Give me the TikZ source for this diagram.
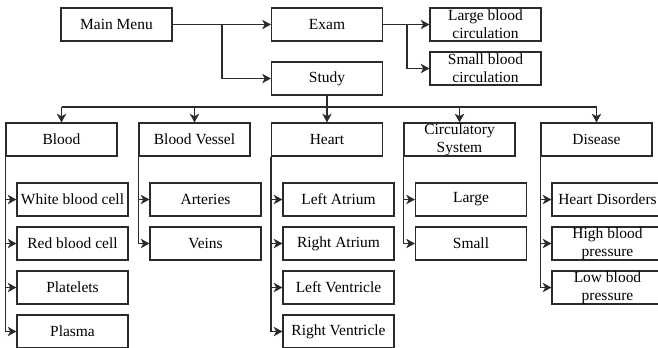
\documentclass[tikz,border=0pt]{standalone}
\usepackage{fontspec}
\setmainfont{Liberation Serif}
\usetikzlibrary{arrows.meta}
\definecolor{lc}{HTML}{2B2B2B}
\tikzset{
  box/.style={draw=lc, line width=0.85pt, minimum width=83.25pt, minimum height=24.75pt,
    inner sep=0pt, align=center, font=\fontsize{11.6}{13.2}\selectfont, text=black},
  conn/.style={draw=lc, line width=0.85pt},
  arr/.style={conn, -{Stealth[length=6.5pt,width=7pt,inset=1.8pt]}}
}
\begin{document}
\begin{tikzpicture}[x=0.75pt,y=-0.75pt]
\useasboundingbox (0,0) rectangle (658,347);
\clip (0,0) rectangle (658,347);
% top level
\node[box] (main) at (116.5,24.5) {Main Menu};
\node[box] (exam) at (327,24.5) {Exam};
\node[box] (study) at (327,78.5) {Study};
\node[box] (large) at (485.5,24.5) {Large blood\\circulation};
\node[box] (small) at (485.5,68.5) {Small blood\\circulation};
\coordinate (j1) at (222,24.5);
\coordinate (j2) at (407,24.5);
\draw[arr] (main.east) -- (exam.west);
\draw[arr] (j1) |- (study.west);
\draw[arr] (exam.east) -- (large.west);
\draw[arr] (j2) |- (small.west);
% categories
\node[box] (blood) at (61.5,139.5) {Blood};
\node[box] (vessel) at (194.5,139.5) {Blood Vessel};
\node[box] (heart) at (327,139.5) {Heart};
\node[box] (circ) at (459.5,139.5) {Circulatory\\System};
\node[box] (dis) at (596.5,139.5) {Disease};
\coordinate (b1) at (61.5,107);
\coordinate (b2) at (194.5,107);
\coordinate (b5) at (596.5,107);
\coordinate (b4) at (459.5,107);
\draw[conn] (b1) -- (b5);
\draw[arr] (study.south) -- (heart.north);
\draw[arr] (b1) -- (blood.north);
\draw[arr] (b2) -- (vessel.north);
\draw[arr] (b4) -- (circ.north);
\draw[arr] (b5) -- (dis.north);
% children
\node[box] (bl1) at (72.5,199.5) {White blood cell};
\node[box] (bl2) at (72.5,243.5) {Red blood cell};
\node[box] (bl3) at (72.5,287.5) {Platelets};
\node[box] (bl4) at (72.5,331.5) {Plasma};
\node[box] (v1) at (205.5,199.5) {Arteries};
\node[box] (v2) at (205.5,243.5) {Veins};
\node[box] (h1) at (338.5,199.5) {Left Atrium};
\node[box] (h2) at (338.5,243.5) {Right Atrium};
\node[box] (h3) at (338.5,287.5) {Left Ventricle};
\node[box] (h4) at (338.5,331.5) {Right Ventricle};
\node[box] (c1) at (471,199.5) {Large};
\node[box] (c2) at (471,243.5) {Small};
\node[box] (d1) at (607.5,199.5) {Heart Disorders};
\node[box] (d2) at (607.5,243.5) {High blood\\pressure};
\node[box] (d3) at (607.5,287.5) {Low blood\\pressure};
\foreach \n in {bl1,bl2,bl3,bl4} \draw[arr] (blood.south west) |- (\n.west);
\foreach \n in {v1,v2} \draw[arr] (vessel.south west) |- (\n.west);
\foreach \n in {h1,h2,h3,h4} \draw[arr] (heart.south west) |- (\n.west);
\foreach \n in {c1,c2} \draw[arr] (circ.south west) |- (\n.west);
\foreach \n in {d1,d2,d3} \draw[arr] (dis.south west) |- (\n.west);
\end{tikzpicture}
\end{document}
